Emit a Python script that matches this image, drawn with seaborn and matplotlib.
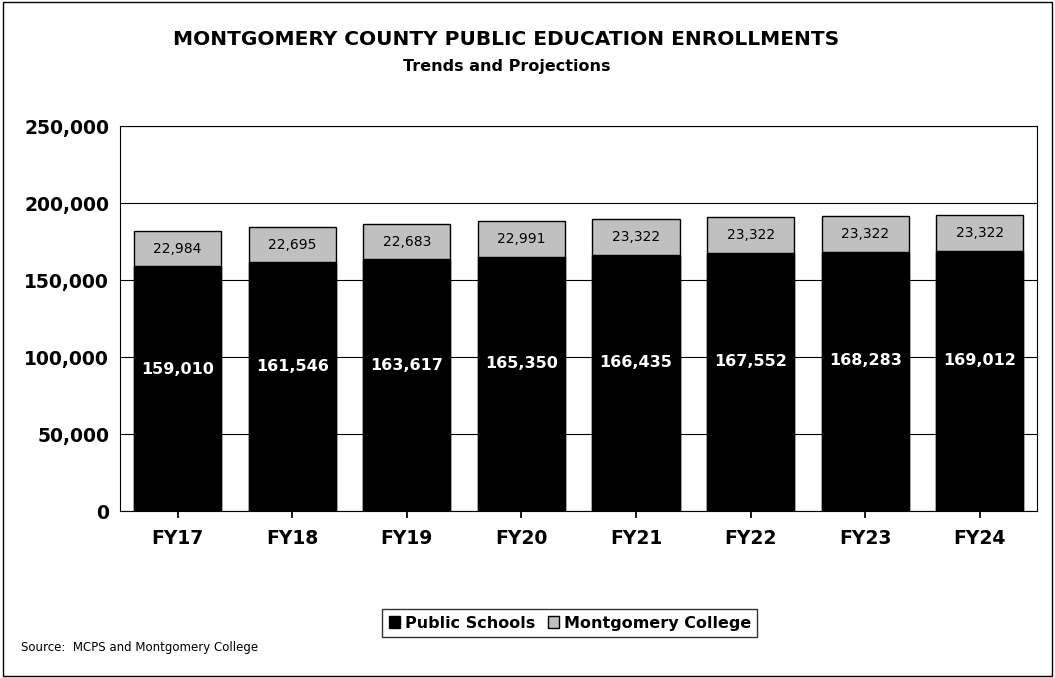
import matplotlib
matplotlib.use("Agg")
import matplotlib.pyplot as plt
import matplotlib.ticker as ticker
import pandas as pd
import seaborn as sns
from matplotlib.patches import Patch, Rectangle

# ── Data ───────────────────────────────────────────────────────────────────────
years = ["FY17", "FY18", "FY19", "FY20", "FY21", "FY22", "FY23", "FY24"]
public_schools = [159010, 161546, 163617, 165350, 166435, 167552, 168283, 169012]
montgomery_college = [22984, 22695, 22683, 22991, 23322, 23322, 23322, 23322]

df = pd.DataFrame({"year": years, "public": public_schools, "college": montgomery_college})
df["total"] = df["public"] + df["college"]

# ── Style ──────────────────────────────────────────────────────────────────────
sns.set_theme(style="white")
plt.rcParams["font.family"] = ["DejaVu Sans"]
plt.rcParams["text.color"] = "black"
plt.rcParams["xtick.color"] = "black"
plt.rcParams["ytick.color"] = "black"
GRAY = "#c0c0c0"

fig = plt.figure(figsize=(10.55, 6.78), dpi=100)
ax = fig.add_axes([0.114, 0.246, 0.869, 0.568])

sns.barplot(data=df, x="year", y="total", color=GRAY, edgecolor="black",
            linewidth=1, width=0.76, saturation=1, ax=ax, zorder=3)
sns.barplot(data=df, x="year", y="public", color="black", edgecolor="black",
            linewidth=1, width=0.76, saturation=1, ax=ax, zorder=4)

for i, row in df.iterrows():
    ax.text(i, row["public"] * 0.58, f"{row['public']:,}", ha="center", va="center",
            color="white", fontsize=11.5, fontweight="bold", zorder=5)
    ax.text(i, row["public"] + row["college"] / 2, f"{row['college']:,}",
            ha="center", va="center", color="black", fontsize=10, zorder=5)

ax.set_ylim(0, 250000)
ax.set_xlim(-0.5, 7.5)
ax.yaxis.set_major_locator(ticker.MultipleLocator(50000))
ax.yaxis.set_major_formatter(ticker.StrMethodFormatter("{x:,.0f}"))
ax.yaxis.grid(True, color="black", linewidth=0.8, zorder=0)
ax.set_axisbelow(True)
for s in ax.spines.values():
    s.set_color("black")
    s.set_linewidth(0.8)
ax.set_xlabel("")
ax.set_ylabel("")
ax.tick_params(axis="both", labelsize=13.5, length=0, pad=8)
ax.tick_params(axis="x", bottom=True, length=5, direction="out", color="black")
for lbl in ax.get_xticklabels() + ax.get_yticklabels():
    lbl.set_fontweight("bold")

fig.text(0.48, 0.933, "MONTGOMERY COUNTY PUBLIC EDUCATION ENROLLMENTS",
         ha="center", fontsize=14.5, fontweight="bold")
fig.text(0.48, 0.895, "Trends and Projections", ha="center", fontsize=11.5,
         fontweight="bold")

handles = [Patch(facecolor="black", edgecolor="black", label="Public Schools"),
           Patch(facecolor=GRAY, edgecolor="black", label="Montgomery College")]
leg = fig.legend(handles=handles, loc="center", bbox_to_anchor=(0.54, 0.081), ncol=2,
                 frameon=True, fancybox=False, edgecolor="black", fontsize=11.5,
                 handlelength=0.7, handleheight=0.7, handletextpad=0.3,
                 columnspacing=0.8, borderpad=0.4)
for t in leg.get_texts():
    t.set_fontweight("bold")

fig.text(0.02, 0.04, "Source:  MCPS and Montgomery College", fontsize=8.5)
fig.patches.append(Rectangle((0.003, 0.003), 0.994, 0.994, transform=fig.transFigure,
                             fill=False, edgecolor="black", linewidth=1))

fig.savefig("out.png", dpi=100)
